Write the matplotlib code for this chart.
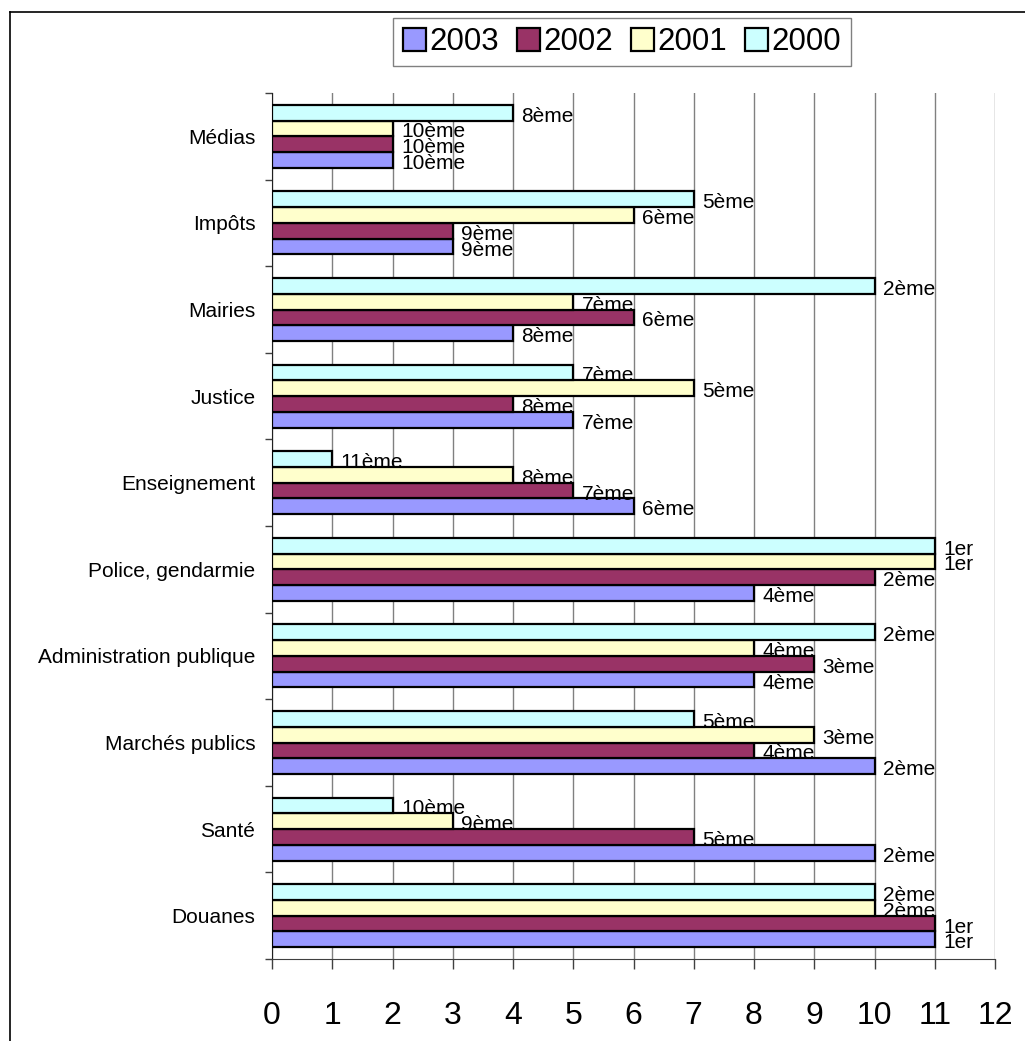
import numpy as np
import matplotlib
matplotlib.use("Agg")
from matplotlib import pyplot as plt
from matplotlib.lines import Line2D

plt.rcParams['font.family'] = ['Liberation Sans', 'DejaVu Sans']

# categories from bottom to top
categories = ["Douanes", "Santé", "Marchés publics", "Administration publique",
              "Police, gendarmie", "Enseignement", "Justice", "Mairies",
              "Impôts", "Médias"]
years = ["2003", "2002", "2001", "2000"]

# bar lengths (12 - rang)
v2003 = [11, 10, 10, 8, 8, 6, 5, 4, 3, 2]
v2002 = [11, 7, 8, 9, 10, 5, 4, 6, 3, 2]
v2001 = [10, 3, 9, 8, 11, 4, 7, 5, 6, 2]
v2000 = [10, 2, 7, 10, 11, 1, 5, 10, 7, 4]

colors = ["#9999FF", "#993366", "#FFFFCC", "#CCFFFF"]

def rang(v):
    r = 12 - v
    return "1er" if r == 1 else "%dème" % r

fig = plt.figure(figsize=(10.25, 10.41), dpi=100)
ax = fig.add_axes([272/1025, 1 - 959/1041, (995 - 272)/1025, (959 - 93)/1041])

y = np.arange(len(categories))
h = 0.182
series = [v2003, v2002, v2001, v2000]
for k, (vals, c, lab) in enumerate(zip(series, colors, years)):
    pos = y + (k - 1.5) * h
    ax.barh(pos, vals, height=h, color=c, edgecolor="black", linewidth=1.6,
            label=lab, zorder=3)
    for p, v in zip(pos, vals):
        ax.text(v + 0.14, p - 0.04, rang(v), fontsize=15, va="center",
                ha="left", zorder=4)

ax.set_xlim(0, 12)
ax.set_ylim(-0.5, len(categories) - 0.5)
ax.set_xticks(range(13))
ax.tick_params(axis="x", labelsize=23, length=7, width=1, color="#404040",
               pad=23)
ax.set_yticks(y)
ax.set_yticklabels(categories, fontsize=15)
ax.tick_params(axis="y", which="major", length=0, pad=12)
ax.set_yticks(np.arange(-0.5, len(categories)), minor=True)
ax.tick_params(axis="y", which="minor", length=5, width=1, color="#404040")
ax.grid(axis="x", color="#808080", linewidth=1, zorder=0)
ax.set_axisbelow(True)
for s in ["top", "right"]:
    ax.spines[s].set_visible(False)
ax.spines["bottom"].set_color("#404040")
ax.spines["left"].set_color("#202020")

handles, labels = ax.get_legend_handles_labels()
leg = fig.legend(handles, labels, loc="center", bbox_to_anchor=(622/1025, 1 - 42/1041),
                 ncol=4, fontsize=22.5, frameon=True, fancybox=False,
                 edgecolor="#606060", handlelength=0.75, handleheight=0.75,
                 handletextpad=0.12, columnspacing=0.55, borderpad=0.3,
                 borderaxespad=0)
leg.get_frame().set_linewidth(1)

# outer frame (left and top edges)
fig.add_artist(Line2D([10/1025, 10/1025], [0, 1 - 12/1041], color="black",
                      linewidth=1.2, transform=fig.transFigure))
fig.add_artist(Line2D([10/1025, 1], [1 - 12/1041, 1 - 12/1041], color="black",
                      linewidth=1.2, transform=fig.transFigure))

fig.savefig("out.png", dpi=100)
